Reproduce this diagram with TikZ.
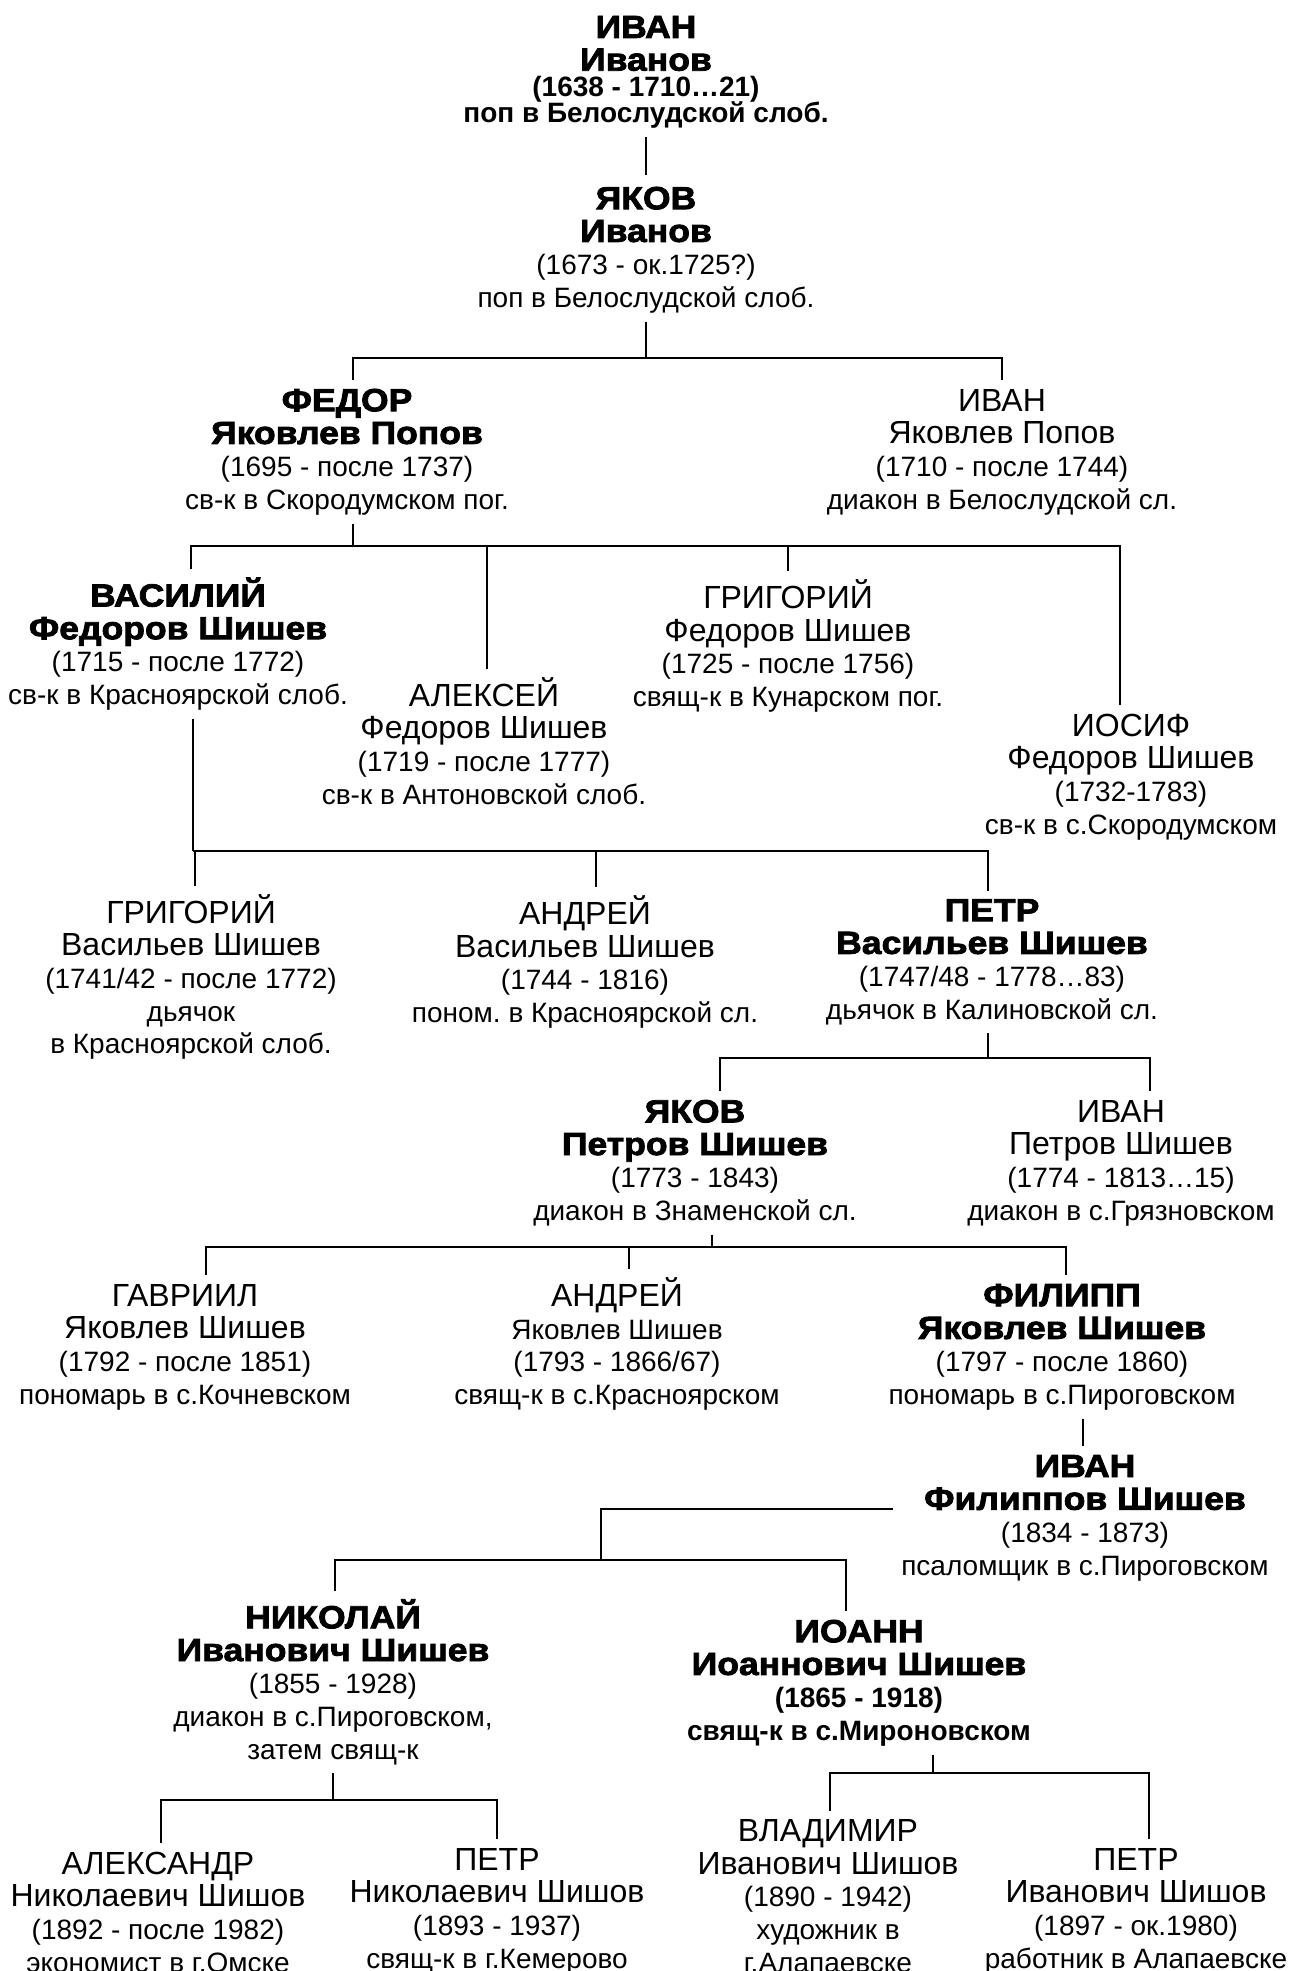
\documentclass[tikz,border=0pt]{standalone}
\usepackage{fontspec}
\setmainfont{Liberation Sans}
\newfontfamily\heavyfont{Liberation Sans Bold}[FakeStretch=1.11,FakeBold=2.5]
\frenchspacing

\newcommand{\hv}[1]{{\fontsize{16}{16.35}\heavyfont #1}}
\newcommand{\nm}[1]{{\fontsize{16}{16.35}\selectfont #1}}
\newcommand{\bd}[1]{{\bfseries #1}}

\begin{document}
\begin{tikzpicture}[x=0.5pt,y=-0.5pt,line width=0.6pt,
    person/.style={align=center,inner sep=4pt,font=\fontsize{14}{16.35}\selectfont}]

    \useasboundingbox (0,0) rectangle (1291,1971);

    % Define people
    \node[person] (ivan0) at (646,72) {\hv{ИВАН}\\\hv{Иванов}\\[-3.3pt]\bd{(1638 - 1710…21)}\\[-3.6pt]\bd{поп в Белослудской слоб.}};
    \node[person] (yakov0) at (646,250) {\hv{ЯКОВ}\\\hv{Иванов}\\(1673 - ок.1725?)\\поп в Белослудской слоб.};

    \node[person] (fedor) at (347,452) {\hv{ФЕДОР}\\\hv{Яковлев Попов}\\(1695 - после 1737)\\св-к в Скородумском пог.};
    \node[person] (ivanYP) at (1002,452) {\nm{ИВАН}\\\nm{Яковлев Попов}\\(1710 - после 1744)\\диакон в Белослудской сл.};

    \node[person] (vasily) at (178,644) {\hv{ВАСИЛИЙ}\\\hv{Федоров Шишев}\\(1715 - после 1772)\\св-к в Красноярской слоб.};
    \node[person] (aleksey) at (484,741) {\nm{АЛЕКСЕЙ}\\\nm{Федоров Шишев}\\(1719 - после 1777)\\св-к в Антоновской слоб.};
    \node[person] (grigoryF) at (788,646) {\nm{ГРИГОРИЙ}\\\nm{Федоров Шишев}\\(1725 - после 1756)\\свящ-к в Кунарском пог.};
    \node[person] (iosif) at (1131,777) {\nm{ИОСИФ}\\\nm{Федоров Шишев}\\(1732-1783)\\св-к в с.Скородумском};

    \node[person] (grigoryV) at (191,977) {\nm{ГРИГОРИЙ}\\\nm{Васильев Шишев}\\(1741/42 - после 1772)\\дьячок\\в Красноярской слоб.};
    \node[person] (andreyV) at (585,962) {\nm{АНДРЕЙ}\\\nm{Васильев Шишев}\\(1744 - 1816)\\поном. в Красноярской сл.};
    \node[person] (petrV) at (992,962) {\hv{ПЕТР}\\\hv{Васильев Шишев}\\(1747/48 - 1778…83)\\дьячок в Калиновской сл.};

    \node[person] (yakovP) at (695,1163) {\hv{ЯКОВ}\\\hv{Петров Шишев}\\(1773 - 1843)\\диакон в Знаменской сл.};
    \node[person] (ivanP) at (1121,1163) {\nm{ИВАН}\\\nm{Петров Шишев}\\(1774 - 1813…15)\\диакон в с.Грязновском};

    \node[person] (gavriil) at (185,1347) {\nm{ГАВРИИЛ}\\\nm{Яковлев Шишев}\\(1792 - после 1851)\\пономарь в с.Кочневском};
    \node[person] (andreyY) at (617,1344) {\nm{АНДРЕЙ}\\Яковлев Шишев\\(1793 - 1866/67)\\свящ-к в с.Красноярском};
    \node[person] (filipp) at (1062,1347) {\hv{ФИЛИПП}\\\hv{Яковлев Шишев}\\(1797 - после 1860)\\пономарь в с.Пироговском};

    \node[person] (ivanF) at (1085,1518) {\hv{ИВАН}\\\hv{Филиппов Шишев}\\(1834 - 1873)\\псаломщик в с.Пироговском};

    \node[person] (nikolay) at (333,1682) {\hv{НИКОЛАЙ}\\\hv{Иванович Шишев}\\(1855 - 1928)\\диакон в с.Пироговском,\\затем свящ-к};
    \node[person] (ioann) at (859,1683) {\hv{ИОАНН}\\\hv{Иоаннович Шишев}\\\bd{(1865 - 1918)}\\\bd{свящ-к в с.Мироновском}};

    \node[person] (aleksandr) at (158,1912) {\nm{АЛЕКСАНДР}\\\nm{Николаевич Шишов}\\(1892 - после 1982)\\экономист в г.Омске};
    \node[person] (petrN) at (497,1911) {\nm{ПЕТР}\\\nm{Николаевич Шишов}\\(1893 - 1937)\\свящ-к в г.Кемерово};
    \node[person] (vladimir) at (828,1896) {\nm{ВЛАДИМИР}\\\nm{Иванович Шишов}\\(1890 - 1942)\\художник в\\г.Алапаевске};
    \node[person] (petrI) at (1136,1911) {\nm{ПЕТР}\\\nm{Иванович Шишов}\\(1897 - ок.1980)\\работник в Алапаевске};

    % Bars under parents
    \coordinate (jY) at (646,358);
    \coordinate (jF) at (353,546);
    \coordinate (jV) at (193,851);
    \coordinate (jP) at (988,1058);
    \coordinate (jYP) at (712,1247);
    \coordinate (jI) at (601,1560);
    \coordinate (jN) at (333,1800);
    \coordinate (jO) at (933,1773);

    % Draw edges
    \draw[shorten >=1.5pt] (ivan0.south) -- (yakov0.north);

    \draw (yakov0.south) -- (jY)
          (jY) -| ([xshift=3pt]fedor.north)
          (jY) -| (ivanYP.north);

    \draw ([xshift=3pt]fedor.south) -- (jF)
          (jF) -| ([xshift=6.5pt]vasily.north)
          (jF) -| ([xshift=1.5pt]aleksey.north)
          (jF) -| (grigoryF.north)
          (jF) -| ([xshift=-5.5pt]iosif.north);

    \draw ([xshift=7.5pt]vasily.south) -- (jV)
          (jV) -| ([xshift=2pt]grigoryV.north)
          (jV) -| ([xshift=5.5pt]andreyV.north)
          (jV) -| ([xshift=-2pt]petrV.north);

    \draw ([xshift=-2pt]petrV.south) -- (jP)
          (jP) -| ([xshift=12.5pt]yakovP.north)
          (jP) -| ([xshift=14.5pt]ivanP.north);

    \draw ([xshift=8.5pt]yakovP.south) -- (jYP)
          (jYP) -| ([xshift=10.5pt]gavriil.north)
          (jYP) -| ([xshift=6pt]andreyY.north)
          (jYP) -| ([xshift=2pt]filipp.north);

    \draw ([xshift=10.5pt]filipp.south) -- ([xshift=-1pt]ivanF.north);

    \draw ([yshift=4.5pt]ivanF.west) -| (jI)
          (jI) -| ([xshift=1pt]nikolay.north)
          (jI) -| ([xshift=-6.5pt]ioann.north);

    \draw (nikolay.south) -- (jN)
          (jN) -| ([xshift=1.5pt]aleksandr.north)
          (jN) -| (petrN.north);

    \draw ([xshift=37pt]ioann.south) -- (jO)
          (jO) -| ([xshift=1pt]vladimir.north)
          (jO) -| ([xshift=6.5pt]petrI.north);

\end{tikzpicture}
\end{document}
